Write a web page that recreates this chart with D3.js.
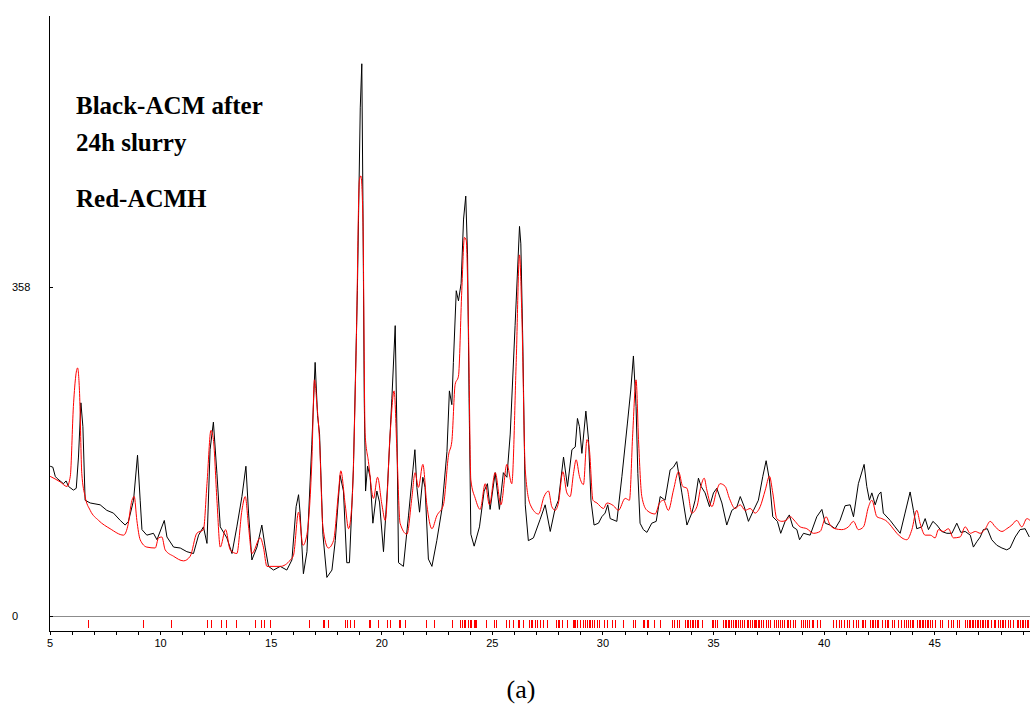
<!DOCTYPE html>
<html>
<head>
<meta charset="utf-8">
<script src="https://cdn.jsdelivr.net/npm/d3@7/dist/d3.min.js"></script>
<style>
  html, body { margin: 0; padding: 0; background: #fff; }
  svg { display: block; }
  .lbl { font-family: "Liberation Sans", Arial, sans-serif; font-size: 11px; fill: #000; }
  .note { font-family: "Liberation Serif", "Times New Roman", serif; font-weight: bold; font-size: 25px; fill: #000; }
</style>
</head>
<body>
<div id="chart"></div>
<script>
// 2theta (deg) / counts
var blackPattern = [
  [5.03,163],[5.15,162],[5.26,152],[5.33,150],[5.63,144],[5.75,147],[5.86,141],[6.08,137],[6.21,139],
  [6.31,173],[6.42,232],[6.51,206],[6.61,126],[6.84,123],[7.29,121],[7.59,115],[7.89,112],[8.20,104],
  [8.42,99],[8.57,103],[8.80,126],[8.98,175],[9.10,126],[9.18,94],[9.40,88],[9.70,90],[9.86,83],
  [10.19,104],[10.31,86],[10.61,75],[10.91,74],[11.21,70],[11.51,68],[11.74,88],[11.96,97],[12.12,79],
  [12.26,181],[12.41,211],[12.57,155],[12.72,97],[13.02,85],[13.25,68],[13.47,97],[13.70,130],[13.88,163],
  [14.00,112],[14.15,61],[14.38,75],[14.60,99],[14.75,75],[14.90,54],[15.13,50],[15.43,54],[15.73,50],
  [15.96,61],[16.15,119],[16.26,132],[16.33,112],[16.48,46],[16.64,70],[16.86,187],[17.01,276],[17.12,218],
  [17.21,198],[17.36,89],[17.54,42],[17.77,50],[17.92,82],[18.14,153],[18.29,136],[18.44,58],[18.56,58],
  [18.74,159],[18.92,354],[19.05,553],[19.12,601],[19.17,452],[19.23,237],[19.29,136],[19.38,163],[19.50,151],
  [19.62,101],[19.80,136],[19.92,124],[20.10,70],[20.28,140],[20.48,237],[20.63,316],[20.71,198],[20.78,58],
  [21.00,54],[21.23,109],[21.43,159],[21.52,181],[21.61,140],[21.73,113],[21.88,151],[21.98,140],[22.13,62],
  [22.29,54],[22.51,82],[22.74,116],[22.97,179],[23.08,245],[23.19,230],[23.26,276],[23.39,354],[23.49,343],
  [23.61,362],[23.72,432],[23.82,457],[23.90,393],[23.97,237],[24.05,89],[24.20,76],[24.44,97],[24.65,136],
  [24.80,144],[24.92,116],[25.15,156],[25.34,116],[25.52,156],[25.68,151],[25.83,198],[26.05,316],[26.25,424],
  [26.31,405],[26.40,296],[26.51,121],[26.65,82],[26.88,85],[27.18,105],[27.41,121],[27.64,92],[27.86,117],
  [28.01,126],[28.24,173],[28.42,141],[28.62,181],[28.77,184],[28.87,215],[28.96,206],[29.07,177],[29.25,223],
  [29.37,192],[29.48,126],[29.62,99],[29.82,101],[29.97,108],[30.12,112],[30.24,121],[30.35,106],[30.65,103],
  [30.88,152],[31.13,210],[31.28,246],[31.40,283],[31.52,228],[31.60,155],[31.70,101],[31.85,94],[32.01,91],
  [32.23,101],[32.43,103],[32.61,130],[32.83,126],[33.06,159],[33.21,162],[33.36,168],[33.59,134],[33.82,99],
  [34.04,112],[34.19,126],[34.34,150],[34.46,141],[34.64,134],[34.84,119],[35.02,134],[35.17,139],[35.40,123],
  [35.62,99],[35.85,115],[36.08,119],[36.23,130],[36.41,119],[36.60,103],[36.83,115],[37.05,126],[37.25,152],
  [37.40,169],[37.55,148],[37.70,108],[37.91,103],[38.06,90],[38.26,103],[38.45,110],[38.61,97],[38.79,94],
  [38.91,83],[39.09,90],[39.39,88],[39.69,108],[39.92,116],[40.07,101],[40.29,99],[40.52,95],[40.74,104],
  [40.97,120],[41.20,121],[41.35,108],[41.57,144],[41.83,165],[41.95,141],[42.07,126],[42.18,134],[42.33,121],
  [42.48,132],[42.59,135],[42.70,112],[43.01,104],[43.23,97],[43.46,90],[43.68,112],[43.91,135],[44.06,115],
  [44.21,95],[44.44,97],[44.59,106],[44.74,94],[44.94,103],[45.12,99],[45.34,92],[45.57,90],[45.80,90],
  [46.02,101],[46.20,91],[46.40,92],[46.63,88],[46.77,75],[46.93,81],[47.08,86],[47.22,94],[47.40,95],
  [47.60,83],[47.83,77],[48.06,74],[48.28,72],[48.43,74],[48.66,86],[48.88,94],[49.11,95],[49.30,86]
];

var redPattern = [
  [5.03,152],[5.48,146],[5.79,141],[5.94,152],[6.08,228],[6.27,270],[6.36,242],[6.46,155],[6.61,130],
  [6.84,115],[7.22,104],[7.74,95],[8.35,88],[8.53,97],[8.73,126],[8.83,130],[8.95,104],[9.10,83],
  [9.40,75],[9.78,74],[9.93,85],[10.08,86],[10.23,72],[10.61,65],[11.06,60],[11.36,65],[11.66,90],
  [11.96,94],[12.12,144],[12.30,202],[12.41,192],[12.57,126],[12.72,75],[12.96,94],[13.17,72],[13.47,68],
  [13.70,115],[13.85,130],[14.00,97],[14.15,68],[14.53,85],[14.67,75],[14.83,54],[15.43,54],[15.89,61],
  [16.03,66],[16.26,113],[16.46,77],[16.64,89],[16.86,168],[16.98,257],[17.09,230],[17.21,190],[17.36,97],
  [17.61,74],[17.84,82],[18.07,136],[18.17,158],[18.37,121],[18.52,95],[18.67,121],[18.87,296],[19.01,474],
  [19.08,479],[19.17,432],[19.27,198],[19.42,168],[19.65,128],[19.83,151],[20.03,121],[20.18,104],[20.40,198],
  [20.58,245],[20.71,178],[20.85,101],[21.16,89],[21.38,128],[21.53,156],[21.68,140],[21.88,165],[22.06,121],
  [22.29,95],[22.51,109],[22.81,121],[23.04,175],[23.19,190],[23.34,252],[23.49,261],[23.64,354],[23.76,412],
  [23.84,409],[23.94,316],[24.05,148],[24.25,128],[24.47,116],[24.70,144],[24.89,121],[25.15,156],[25.41,121],
  [25.68,165],[25.90,144],[26.10,276],[26.25,393],[26.36,323],[26.51,159],[26.74,121],[27.11,111],[27.36,130],
  [27.56,136],[27.71,119],[27.86,115],[28.01,123],[28.21,157],[28.39,134],[28.54,130],[28.69,155],[28.81,170],
  [28.96,152],[29.14,143],[29.30,192],[29.41,181],[29.57,126],[29.75,123],[30.05,117],[30.20,123],[30.50,120],
  [30.72,115],[31.03,128],[31.22,126],[31.37,199],[31.52,257],[31.63,192],[31.78,130],[32.01,115],[32.38,111],
  [32.58,123],[32.76,126],[32.98,115],[33.21,137],[33.44,157],[33.63,141],[33.82,139],[34.04,112],[34.27,119],
  [34.45,141],[34.60,150],[34.72,137],[34.95,119],[35.17,137],[35.32,144],[35.55,141],[35.74,128],[36.00,117],
  [36.23,121],[36.45,115],[36.68,117],[36.90,112],[37.13,119],[37.36,137],[37.55,152],[37.70,134],[37.88,106],
  [38.11,103],[38.30,104],[38.49,108],[38.71,103],[38.94,97],[39.24,95],[39.54,90],[39.84,92],[40.11,108],
  [40.29,99],[40.52,95],[40.82,94],[41.12,97],[41.35,103],[41.57,94],[41.80,97],[42.03,119],[42.18,126],
  [42.41,108],[42.63,106],[42.86,103],[43.08,97],[43.31,90],[43.54,85],[43.76,83],[43.99,94],[44.21,115],
  [44.36,101],[44.59,88],[44.82,88],[45.04,85],[45.19,94],[45.42,92],[45.64,95],[45.87,85],[46.17,86],
  [46.40,97],[46.63,90],[46.86,92],[47.08,90],[47.31,95],[47.53,103],[47.76,97],[48.06,92],[48.28,95],
  [48.51,99],[48.73,104],[48.96,97],[49.19,106],[49.33,104]
];

// reference peak positions (red sticks)
var refPeaks = [
  6.72,9.22,10.49,12.12,12.31,12.75,12.96,13.43,14.31,14.57,14.72,14.99,16.71,17.36,17.42,17.61,18.37,18.47,
  18.59,18.77,19.45,19.51,19.85,20.25,20.40,20.78,20.84,21.08,22.02,22.40,23.19,23.57,23.64,23.72,23.79,23.91,
  23.99,24.06,24.20,24.24,24.29,24.74,25.10,25.19,25.65,25.78,25.95,26.16,26.22,26.43,26.70,26.76,26.82,26.93,
  27.06,27.18,27.33,27.49,27.91,27.97,28.03,28.16,28.39,28.66,28.72,28.78,28.87,28.99,29.14,29.22,29.29,29.37,
  29.44,29.52,29.62,29.75,29.86,30.09,30.20,30.42,30.57,30.92,31.40,31.49,31.83,31.89,32.01,32.08,32.31,32.58,
  33.14,33.24,33.36,33.48,33.74,33.82,33.89,33.96,34.04,34.11,34.19,34.27,34.34,34.49,34.95,35.02,35.09,35.20,
  35.44,35.52,35.59,35.67,35.74,35.82,35.89,35.97,36.04,36.12,36.23,36.30,36.41,36.53,36.60,36.68,36.75,36.83,
  36.89,36.95,37.03,37.10,37.17,37.28,37.39,37.50,37.58,37.76,37.85,37.93,38.03,38.12,38.21,38.34,38.41,38.49,
  38.61,38.70,38.97,39.06,39.16,39.27,39.36,39.47,39.54,39.69,39.84,40.44,40.57,40.71,40.79,40.90,41.05,41.15,
  41.35,41.47,41.57,41.73,41.80,41.88,42.10,42.18,42.25,42.33,42.41,42.48,42.63,42.78,42.86,42.93,43.11,43.20,
  43.38,43.50,43.65,43.74,43.83,43.91,43.99,44.06,44.21,44.29,44.36,44.44,44.51,44.59,44.67,44.74,44.81,44.89,
  45.04,45.27,45.37,45.64,45.76,45.87,46.02,46.13,46.40,46.47,46.55,46.62,46.70,46.77,46.85,46.93,47.00,47.08,
  47.15,47.22,47.30,47.38,47.45,47.57,47.68,47.75,47.87,47.98,48.06,48.13,48.21,48.33,48.43,48.58,48.73,48.81,
  48.88,48.96,49.03,49.11,49.19,49.26
];

var xTicks = d3.range(5, 50);
var xLabels = [5, 10, 15, 20, 25, 30, 35, 40, 45];
var yLabels = [0, 358];
var notes = ["Black-ACM after", "24h slurry", "Red-ACMH"];
var caption = "(a)";

var W = 1030, H = 705;
var svg = d3.select("#chart").append("svg").attr("width", W).attr("height", H);

var x = d3.scaleLinear().domain([5, 49.33]).range([49.5, 1030]);
var y = d3.scaleLinear().domain([0, 653]).range([616, 16]);

var axisY = 631.5;

// zero line (grey) and reference band
svg.append("line")
  .attr("x1", 49.5).attr("x2", W)
  .attr("y1", Math.round(y(0)) + 0.5).attr("y2", Math.round(y(0)) + 0.5)
  .attr("stroke", "#8c8c8c").attr("stroke-width", 1);

svg.append("g").selectAll("line")
  .data(refPeaks)
  .enter()
  .append("line")
  .attr("x1", function(d){ return Math.round(x(d)) + 0.5; })
  .attr("x2", function(d){ return Math.round(x(d)) + 0.5; })
  .attr("y1", 620).attr("y2", 628)
  .attr("stroke", "#ff0000").attr("stroke-width", 1)
  .attr("shape-rendering", "crispEdges");

// bottom axis
var xAxis = d3.axisBottom(x)
  .tickValues(xTicks)
  .tickSize(3)
  .tickSizeOuter(0)
  .tickFormat(function(d){ return xLabels.indexOf(d) >= 0 ? d : ""; });

var gx = svg.append("g")
  .attr("transform", "translate(0," + axisY + ")")
  .call(xAxis);
gx.select(".domain").remove();
gx.selectAll(".tick line").attr("stroke", "#000").attr("shape-rendering", "crispEdges");
gx.selectAll(".tick text").attr("class", "lbl").attr("y", 8).attr("dy", "0.71em");

svg.append("line")
  .attr("x1", 49).attr("x2", W).attr("y1", axisY).attr("y2", axisY)
  .attr("stroke", "#000").attr("stroke-width", 1).attr("shape-rendering", "crispEdges");

// left axis
var yAxis = d3.axisRight(y).tickValues(yLabels).tickSize(3).tickFormat("");
var gy = svg.append("g").attr("transform", "translate(49.5,0)").call(yAxis);
gy.select(".domain").remove();
gy.selectAll(".tick line").attr("stroke", "#000").attr("shape-rendering", "crispEdges");

svg.append("line")
  .attr("x1", 49.5).attr("x2", 49.5).attr("y1", 16).attr("y2", axisY)
  .attr("stroke", "#000").attr("stroke-width", 1).attr("shape-rendering", "crispEdges");

svg.append("g").selectAll("text")
  .data(yLabels)
  .enter()
  .append("text")
  .attr("class", "lbl")
  .attr("x", 12)
  .attr("y", function(d){ return y(d) + 4; })
  .text(function(d){ return d; });

// patterns: measured (black, raw) and calculated (red, smooth)
var line = d3.line()
  .x(function(d){ return x(d[0]); })
  .y(function(d){ return y(d[1]); });

var smooth = d3.line()
  .curve(d3.curveMonotoneX)
  .x(function(d){ return x(d[0]); })
  .y(function(d){ return y(d[1]); });

svg.append("path")
  .datum(blackPattern)
  .attr("d", line)
  .attr("fill", "none")
  .attr("stroke", "#000")
  .attr("stroke-width", 1);

svg.append("path")
  .datum(redPattern)
  .attr("d", smooth)
  .attr("fill", "none")
  .attr("stroke", "#ff0000")
  .attr("stroke-width", 1);

// annotation
var noteY = [114, 151, 207];
svg.append("g").selectAll("text")
  .data(notes)
  .enter()
  .append("text")
  .attr("class", "note")
  .attr("x", 76)
  .attr("y", function(d, i){ return noteY[i]; })
  .text(function(d){ return d; });

svg.append("text")
  .attr("x", 521).attr("y", 698)
  .attr("text-anchor", "middle")
  .style("font-family", "'Liberation Serif', 'Times New Roman', serif")
  .style("font-size", "26px")
  .text(caption);
</script>
</body>
</html>
